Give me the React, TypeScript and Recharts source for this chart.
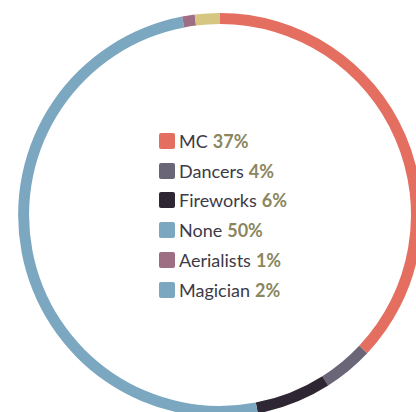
import { PieChart, Pie, Cell, Legend } from 'recharts';

const categories = ['MC', 'Dancers', 'Fireworks', 'None', 'Aerialists', 'Magician'];
const shares = [37, 4, 6, 50, 1, 2];
const sliceColors = ['#e46f61', '#6b6677', '#2e2633', '#7ba7c0', '#9e6e85', '#d6c682'];
// the source legend shows Magician with a blue swatch even though its slice is yellow
const swatchColors = ['#e46f61', '#6b6677', '#2e2633', '#7ba7c0', '#9e6e85', '#7ba7c0'];

const data = categories.map((name, i) => ({ name, value: shares[i] }));

const CenterLegend = () => (
    <div style={{ fontFamily: 'Lato, sans-serif', fontSize: 18 }}>
        {categories.map((name, i) => (
            <div key={name} style={{ display: 'flex', alignItems: 'center', height: 29.8 }}>
                <span
                    style={{
                        width: 16,
                        height: 16,
                        borderRadius: 2,
                        background: swatchColors[i],
                        marginRight: 4,
                        display: 'inline-block',
                    }}
                />
                <span style={{ color: '#3d3a47' }}>{name}</span>
                <span style={{ color: '#8a8660', fontWeight: 700, marginLeft: 5 }}>{shares[i]}%</span>
            </div>
        ))}
    </div>
);

export default function App() {
    return (
        <div style={{ position: 'absolute', left: 0, top: 0, width: 416, height: 412, background: '#fff' }}>
            <PieChart width={416} height={412} margin={{ top: 0, right: 0, bottom: 0, left: 0 }}>
                <Pie
                    data={data}
                    dataKey="value"
                    nameKey="name"
                    cx={220}
                    cy={215}
                    innerRadius={191}
                    outerRadius={202}
                    startAngle={90}
                    endAngle={-270}
                    stroke="none"
                    isAnimationActive={false}
                >
                    {data.map((d, i) => (
                        <Cell key={d.name} fill={sliceColors[i]} />
                    ))}
                </Pie>
                <Legend
                    content={<CenterLegend />}
                    wrapperStyle={{ position: 'absolute', left: 159, top: 126, width: 'auto', bottom: 'auto' }}
                />
            </PieChart>
        </div>
    );
}
